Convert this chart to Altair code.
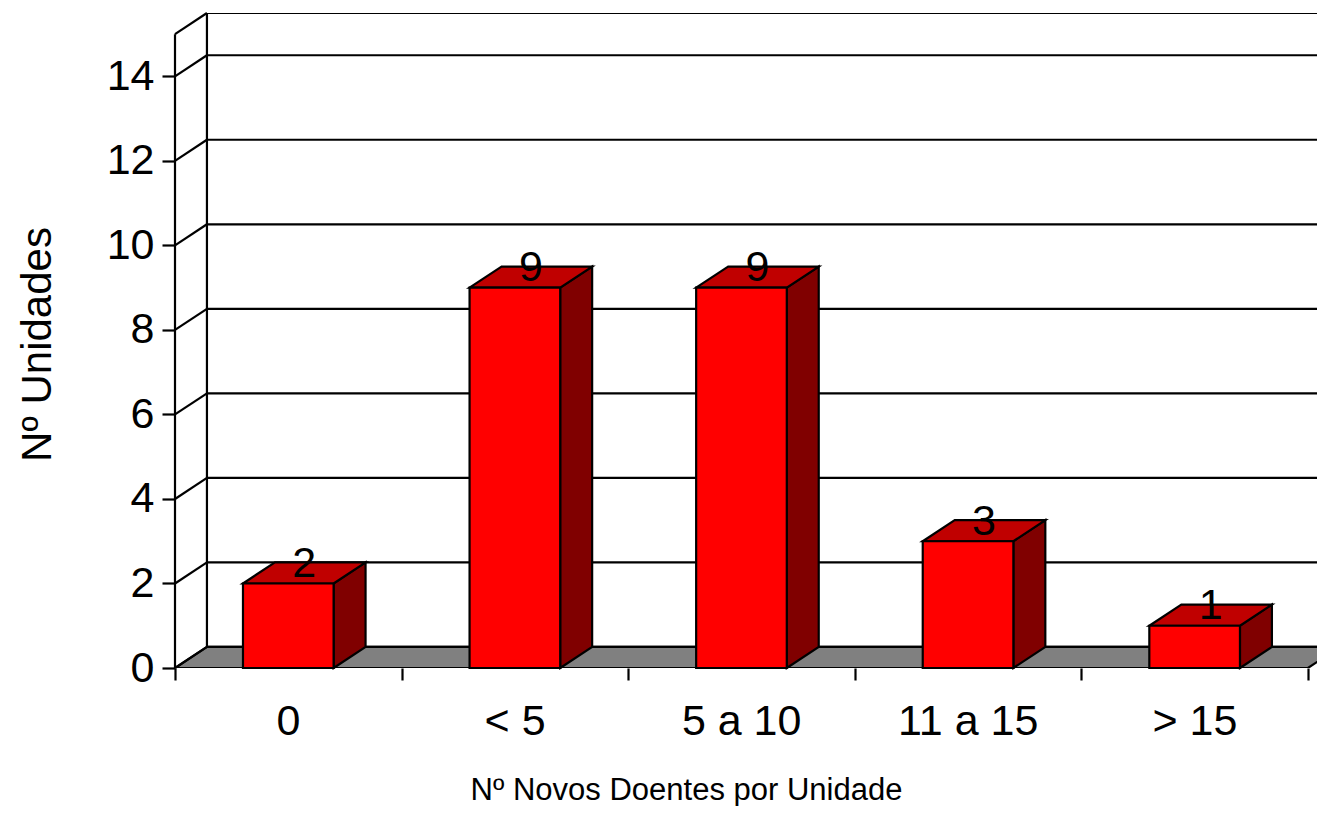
import json
import altair as alt
import pandas as pd

# ---- data ----
categories = ["0", "< 5", "5 a 10", "11 a 15", "> 15"]
values = [2, 9, 9, 3, 1]
y_tick_values = [0, 2, 4, 6, 8, 10, 12, 14]
wall_levels = [0, 2, 4, 6, 8, 10, 12, 14, 15]
x_title = "Nº Novos Doentes por Unidade"
y_title = "Nº Unidades"

# ---- 3D styling constants (in scale units) ----
DX = 0.141    # depth offset along x
DY = 0.5      # depth offset along y
HALF = 0.2    # half bar width
XMAX = 5.04
YMAX = 15.5
FONT = "Liberation Sans"
SW = 2.2

n = len(categories)
centers = [i + 0.5 for i in range(n)]

front = pd.DataFrame({
    "cat": categories,
    "x": [c - HALF for c in centers],
    "x2": [c + HALF for c in centers],
    "y": [0] * n,
    "y2": values,
})

side_rows, top_rows = [], []
for i, (c, v) in enumerate(zip(centers, values)):
    side_rows.append({"bar": i, "x": c + HALF, "y": 0, "y2": v})
    side_rows.append({"bar": i, "x": c + HALF + DX, "y": DY, "y2": v + DY})
    top_rows.append({"bar": i, "y": v, "x": c - HALF, "x2": c + HALF})
    top_rows.append({"bar": i, "y": v + DY, "x": c - HALF + DX, "x2": c + HALF + DX})
side = pd.DataFrame(side_rows)
top = pd.DataFrame(top_rows)

labels = pd.DataFrame({
    "x": [c + DX / 2 for c in centers],
    "y": [v + 0.15 for v in values],
    "t": [str(v) for v in values],
})

floor = pd.DataFrame([
    {"y": 0, "x": 0, "x2": n},
    {"y": DY, "x": DX, "x2": n + DX},
])

back_grid = pd.DataFrame({"y": [v + DY for v in wall_levels], "x": DX, "x2": XMAX})
diag = pd.DataFrame({"x": 0, "x2": DX, "y": wall_levels, "y2": [v + DY for v in wall_levels]})
verticals = pd.DataFrame([
    {"x": 0, "x2": 0, "y": 0, "y2": wall_levels[-1]},
    {"x": DX, "x2": DX, "y": DY, "y2": wall_levels[-1] + DY},
])

xs = alt.Scale(domain=[0, XMAX], nice=False, zero=False)
ys = alt.Scale(domain=[0, YMAX], nice=False, zero=False)

label_expr = "datum.value < %d ? %s[datum.value] : ''" % (n, json.dumps(categories))

x_axis = alt.Axis(
    values=list(range(n + 1)), labelExpr=label_expr, labelOffset=113,
    tickSize=12, tickWidth=SW, tickColor="black", domain=False, grid=False,
    labelFont=FONT, labelFontSize=43, labelColor="black", labelPadding=20,
    labelFlush=False, labelOverlap=False, labelBound=False,
    title=x_title, titleFont=FONT, titleFontSize=31, titleFontWeight="normal",
    titleColor="black", titleX=511, titleY=131, titleAlign="center",
    titleBaseline="alphabetic", titleAnchor="start",
)
y_axis = alt.Axis(
    values=y_tick_values, tickSize=13, tickWidth=SW, tickColor="black",
    domain=False, grid=False, labelFont=FONT, labelFontSize=43,
    labelColor="black", labelPadding=8, labelFlush=False, labelOverlap=False,
    labelBound=False,
    title=y_title, titleFont=FONT, titleFontSize=42, titleFontWeight="normal",
    titleColor="black", titleX=-125, titleY=331, titleAngle=270,
    titleAlign="center", titleBaseline="alphabetic", titleAnchor="start",
)


def X(field):
    return alt.X(field, scale=xs, axis=x_axis)


def Y(field):
    return alt.Y(field, scale=ys, axis=y_axis)


floor_layer = alt.Chart(floor).mark_area(
    orient="horizontal", fill="#808080", stroke="black", strokeWidth=SW, clip=True
).encode(y=Y("y:Q"), x=X("x:Q"), x2="x2:Q")

grid_layer = alt.Chart(back_grid).mark_rule(color="black", strokeWidth=SW, clip=True).encode(
    y=Y("y:Q"), x=X("x:Q"), x2="x2:Q"
)

diag_layer = alt.Chart(diag).mark_rule(color="black", strokeWidth=SW).encode(
    x=X("x:Q"), x2="x2:Q", y=Y("y:Q"), y2="y2:Q"
)

vert_layer = alt.Chart(verticals).mark_rule(color="black", strokeWidth=SW).encode(
    x=X("x:Q"), x2="x2:Q", y=Y("y:Q"), y2="y2:Q"
)

side_layer = alt.Chart(side).mark_area(
    orient="vertical", fill="#800000", stroke="black", strokeWidth=SW
).encode(x=X("x:Q"), y=Y("y:Q"), y2="y2:Q", detail="bar:N")

top_layer = alt.Chart(top).mark_area(
    orient="horizontal", fill="#C00000", stroke="black", strokeWidth=SW
).encode(y=Y("y:Q"), x=X("x:Q"), x2="x2:Q", detail="bar:N")

front_layer = alt.Chart(front).mark_rect(
    fill="#FF0000", stroke="black", strokeWidth=SW
).encode(x=X("x:Q"), x2="x2:Q", y=Y("y:Q"), y2="y2:Q")

label_layer = alt.Chart(labels).mark_text(
    font=FONT, fontSize=43, color="black", align="center", baseline="alphabetic"
).encode(x=X("x:Q"), y=Y("y:Q"), text="t:N")

chart = alt.layer(
    floor_layer, grid_layer, diag_layer, vert_layer,
    side_layer, top_layer, front_layer, label_layer,
).properties(
    width=1142, height=655,
    autosize=alt.AutoSizeParams(type="none"),
    padding={"left": 167, "top": 5, "right": 0, "bottom": 138},
    background="white",
).configure_view(stroke=None)

chart.save("out.html", embed_options={"renderer": "svg", "actions": False})
